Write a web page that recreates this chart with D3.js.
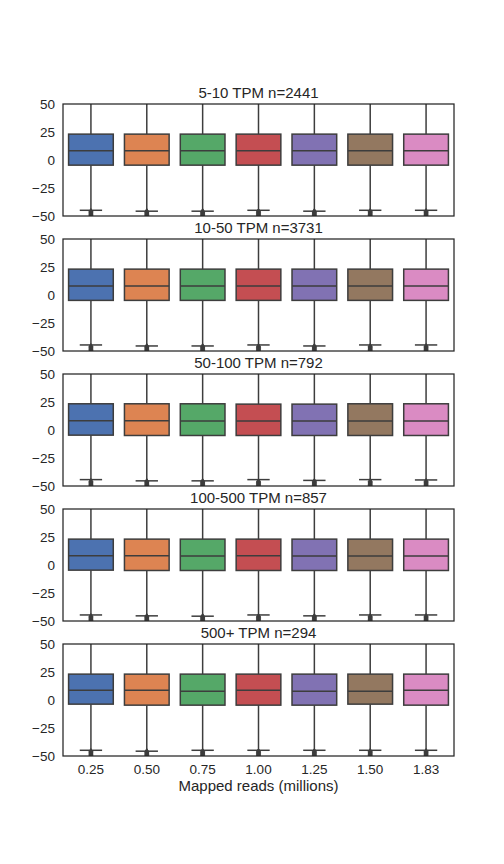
<!DOCTYPE html>
<html><head><meta charset="utf-8">
<script src="https://cdn.jsdelivr.net/npm/d3@7"></script>
<style>body{margin:0;background:#fff;} svg{display:block;}</style>
</head><body>
<svg id="chart" width="504" height="864"></svg>
<script>
const categories = ["0.25","0.50","0.75","1.00","1.25","1.50","1.83"];
const panelTitles = ["5-10 TPM n=2441","10-50 TPM n=3731","50-100 TPM n=792","100-500 TPM n=857","500+ TPM n=294"];
const yTicks = [-50,-25,0,25,50];
const colors = ["#4C72B0","#DD8452","#55A868","#C44E52","#8172B3","#937860","#DA8BC3"];
// per panel, per category: [whiskerLow, q1, median, q3, whiskerHigh]
const panel1 = [[-44.9,-4.6,8.2,23.1,62],[-45.7,-4.6,8.2,23.1,62],[-45.7,-4.6,8.2,23.1,62],[-44.9,-4.6,8.2,23.1,62],[-45.7,-4.6,8.2,23.1,62],[-44.9,-4.6,8.2,23.1,62],[-44.9,-4.6,8.2,23.1,62]];
const panel2 = [[-44.6,-4.8,8.0,23.1,62],[-45.5,-4.8,8.0,23.1,62],[-45.5,-4.8,8.0,23.1,62],[-44.6,-4.8,8.0,23.1,62],[-45.5,-4.8,8.0,23.1,62],[-44.6,-4.8,8.0,23.1,62],[-44.6,-4.8,8.0,23.1,62]];
const panel3 = [[-44.3,-4.6,8.2,23.4,62],[-45.4,-4.9,8.2,23.4,62],[-45.4,-4.9,8.0,23.4,62],[-44.3,-4.9,8.0,23.1,62],[-45.0,-4.9,8.0,23.1,62],[-44.3,-4.9,8.0,23.4,62],[-44.6,-4.9,8.0,23.4,62]];
const panel4 = [[-44.6,-4.6,8.2,23.1,62],[-45.4,-4.9,8.2,23.1,62],[-45.7,-4.9,8.0,23.1,62],[-44.6,-4.9,8.2,23.1,62],[-45.4,-4.9,8.0,23.1,62],[-44.6,-4.9,8.0,23.1,62],[-44.6,-4.9,8.0,23.1,62]];
const panel5 = [[-44.9,-3.7,8.8,23.1,62],[-45.7,-4.6,8.8,23.1,62],[-44.9,-4.6,7.9,23.1,62],[-44.9,-4.6,8.8,23.1,62],[-44.9,-4.6,7.9,23.1,62],[-44.9,-3.7,7.9,23.1,62],[-44.9,-4.6,8.8,23.1,62]];
const panels = [panel1,panel2,panel3,panel4,panel5];
const fliers = [-46.0,-46.6,-47.3,-48.1,-48.8,-49.6,-50.4,-51.5];
const xLabel = "Mapped reads (millions)";

const svg = d3.select("#chart");
const left = 63, right = 454, top0 = 104, ph = 112, step = 135;
const textColor = "#262626", lineColor = "#3d3d3d";
const font = "'Liberation Sans', Arial, sans-serif";

const x = d3.scaleBand().domain(categories).range([left, right]).paddingInner(0).paddingOuter(0);
const boxW = x.bandwidth() * 0.8;

panels.forEach((pdata, pi) => {
  const top = top0 + pi * step;
  const y = d3.scaleLinear().domain([-50, 50]).range([top + ph, top]);
  const g = svg.append("g");
  const clipId = "clip" + pi;
  svg.append("defs").append("clipPath").attr("id", clipId)
    .append("rect").attr("x", left).attr("y", top).attr("width", right - left).attr("height", ph);
  const pg = g.append("g").attr("clip-path", `url(#${clipId})`);

  pdata.forEach((d, i) => {
    const cx = x(categories[i]) + x.bandwidth() / 2;
    const [wl, q1, med, q3, wh] = d;
    pg.append("line").attr("x1", cx).attr("x2", cx).attr("y1", y(q3)).attr("y2", y(wh))
      .attr("stroke", lineColor).attr("stroke-width", 1.5);
    pg.append("line").attr("x1", cx).attr("x2", cx).attr("y1", y(q1)).attr("y2", y(wl))
      .attr("stroke", lineColor).attr("stroke-width", 1.5);
    pg.append("line").attr("x1", cx - boxW / 4).attr("x2", cx + boxW / 4).attr("y1", y(wl)).attr("y2", y(wl))
      .attr("stroke", lineColor).attr("stroke-width", 1.5);
    fliers.forEach(f => {
      const fy = y(f);
      pg.append("path")
        .attr("d", `M${cx},${fy - 3}L${cx + 2},${fy}L${cx},${fy + 3}L${cx - 2},${fy}Z`)
        .attr("fill", lineColor).attr("stroke", lineColor).attr("stroke-width", 0.8);
    });
    pg.append("rect").attr("x", cx - boxW / 2).attr("width", boxW)
      .attr("y", y(q3)).attr("height", y(q1) - y(q3))
      .attr("fill", colors[i]).attr("stroke", lineColor).attr("stroke-width", 1.5);
    pg.append("line").attr("x1", cx - boxW / 2).attr("x2", cx + boxW / 2).attr("y1", y(med)).attr("y2", y(med))
      .attr("stroke", lineColor).attr("stroke-width", 1.5);
  });

  g.append("rect").attr("x", left).attr("y", top).attr("width", right - left).attr("height", ph)
    .attr("fill", "none").attr("stroke", textColor).attr("stroke-width", 1.25);

  const yAxis = g.append("g").attr("transform", `translate(${left},0)`)
    .call(d3.axisLeft(y).tickValues(yTicks).tickSize(0).tickPadding(8).tickFormat(v => v < 0 ? "\u2212" + Math.abs(v) : String(v)));
  yAxis.select(".domain").remove();
  yAxis.selectAll("text").attr("fill", textColor).attr("font-family", font).attr("font-size", 13.5);

  const xAxis = g.append("g").attr("transform", `translate(0,${top + ph})`)
    .call(d3.axisBottom(x).tickSize(0).tickPadding(8));
  xAxis.select(".domain").remove();
  if (pi < panels.length - 1) xAxis.selectAll("text").remove();
  else xAxis.selectAll("text").attr("fill", textColor).attr("font-family", font).attr("font-size", 13.5);

  g.append("text").attr("x", (left + right) / 2).attr("y", top - 6)
    .attr("text-anchor", "middle").attr("fill", textColor)
    .attr("font-family", font).attr("font-size", 15).text(panelTitles[pi]);
});

svg.append("text").attr("x", (left + right) / 2).attr("y", top0 + 4 * step + ph + 35)
  .attr("text-anchor", "middle").attr("fill", textColor)
  .attr("font-family", font).attr("font-size", 15).text(xLabel);
</script>
</body></html>
